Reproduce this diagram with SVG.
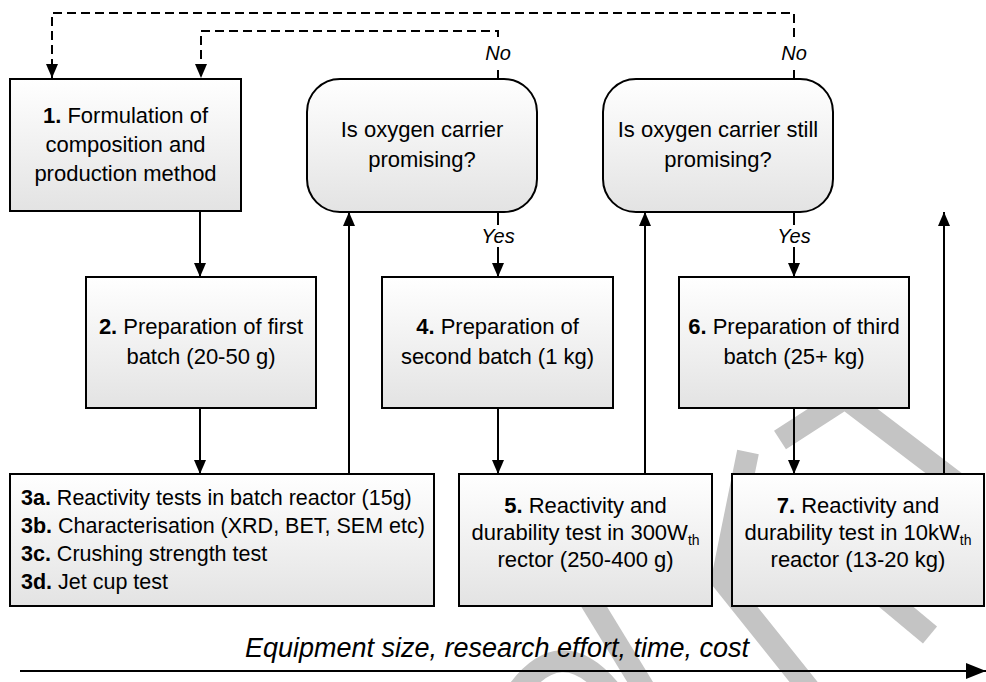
<svg xmlns="http://www.w3.org/2000/svg" width="986" height="682" viewBox="0 0 986 682">
<style>
.wm{fill:none;stroke:#c4c4c4;stroke-width:22;stroke-linecap:butt;stroke-linejoin:miter}
.box{fill:url(#g);stroke:#000;stroke-width:2}
.t{font-family:"Liberation Sans",Arial,sans-serif;font-size:22px;fill:#000;text-anchor:middle}
.t3{font-family:"Liberation Sans",Arial,sans-serif;font-size:21.5px;fill:#000}
.b{font-weight:bold}
.sub{font-size:14px}
.lab{font-family:"Liberation Sans",Arial,sans-serif;font-size:20px;font-style:italic;fill:#000;text-anchor:middle}
.c{fill:none;stroke:#000;stroke-width:2;marker-end:url(#ah)}
.d{fill:none;stroke:#000;stroke-width:2;stroke-dasharray:9 5;marker-end:url(#ah)}
.bg{fill:#fff;stroke:none}
</style>
<defs>
<linearGradient id="g" x1="0" y1="0" x2="0" y2="1">
<stop offset="0" stop-color="#ffffff"/>
<stop offset="1" stop-color="#e3e3e3"/>
</linearGradient>
<marker id="ah" viewBox="0 0 14 12" refX="14" refY="6" markerWidth="14" markerHeight="12" markerUnits="userSpaceOnUse" orient="auto">
<path d="M0,0 L14,6 L0,12 z" fill="#000"/>
</marker>
<marker id="big" viewBox="0 0 20 16" refX="20" refY="8" markerWidth="20" markerHeight="16" markerUnits="userSpaceOnUse" orient="auto">
<path d="M0,0 L20,8 L0,16 z" fill="#000"/>
</marker>
</defs>
<rect width="986" height="682" fill="#fff"/>
<g id="watermark">
<path class="wm" d="M780,440 L845,398 L975,497"/>
<path class="wm" d="M748,452 L722,580 L810,690"/>
<path class="wm" d="M840,560 L930,635"/>
<path class="wm" d="M590,600 L645,690"/>
<path class="wm" d="M515,695 Q560,630 610,690"/>
</g>
<g id="connectors">
<path class="c" d="M200,211 L200,277"/>
<path class="c" d="M200,408 L200,474"/>
<path class="c" d="M349,474 L349,212"/>
<path class="c" d="M498,212 L498,277"/>
<path class="c" d="M498,408 L498,474"/>
<path class="c" d="M645,474 L645,212"/>
<path class="c" d="M794,212 L794,277"/>
<path class="c" d="M794,408 L794,474"/>
<path class="c" d="M944,474 L944,212"/>
<path class="d" d="M498,79 L498,31 L201,31 L201,78"/>
<path class="d" d="M794,79 L794,13 L52,13 L52,78"/>
<path fill="none" stroke="#000" stroke-width="2" marker-end="url(#big)" d="M20,671 L986,671"/>
<rect class="bg" x="480" y="39" width="36" height="29"/>
<text class="lab" x="498" y="60">No</text>
<rect class="bg" x="776" y="39" width="36" height="29"/>
<text class="lab" x="794" y="60">No</text>
<rect class="bg" x="478" y="225" width="40" height="22"/>
<text class="lab" x="498" y="243">Yes</text>
<rect class="bg" x="774" y="225" width="40" height="22"/>
<text class="lab" x="794" y="243">Yes</text>
</g>
<g id="n1">
<rect class="box" x="10" y="79" width="231" height="132"/>
<text class="t" x="125.5" y="123"><tspan class="b">1.</tspan> Formulation of</text>
<text class="t" x="125.5" y="152">composition and</text>
<text class="t" x="125.5" y="181">production method</text>
</g>
<g id="n2">
<rect class="box" x="86" y="277" width="230" height="131"/>
<text class="t" x="201" y="334"><tspan class="b">2.</tspan> Preparation of first</text>
<text class="t" x="201" y="364">batch (20-50 g)</text>
</g>
<g id="n3">
<rect class="box" x="10" y="474" width="424" height="132"/>
<text class="t3" x="21" y="505"><tspan class="b">3a.</tspan> Reactivity tests in batch reactor (15g)</text>
<text class="t3" x="21" y="533"><tspan class="b">3b.</tspan> Characterisation (XRD, BET, SEM etc)</text>
<text class="t3" x="21" y="561"><tspan class="b">3c.</tspan> Crushing strength test</text>
<text class="t3" x="21" y="589"><tspan class="b">3d.</tspan> Jet cup test</text>
</g>
<g id="q1">
<rect class="box" x="307" y="79" width="230" height="133" rx="33" ry="33"/>
<text class="t" x="422" y="137">Is oxygen carrier</text>
<text class="t" x="422" y="167">promising?</text>
</g>
<g id="n4">
<rect class="box" x="382" y="277" width="231" height="131"/>
<text class="t" x="497.5" y="334"><tspan class="b">4.</tspan> Preparation of</text>
<text class="t" x="497.5" y="364">second batch (1 kg)</text>
</g>
<g id="n5">
<rect class="box" x="459" y="474" width="253" height="132"/>
<text class="t" x="585.5" y="513"><tspan class="b">5.</tspan> Reactivity and</text>
<text class="t" x="585.5" y="540">durability test in 300W<tspan class="sub" dy="5">th</tspan></text>
<text class="t" x="585.5" y="567">rector (250-400 g)</text>
</g>
<g id="q2">
<rect class="box" x="603" y="79" width="230" height="133" rx="33" ry="33"/>
<text class="t" x="718" y="137">Is oxygen carrier still</text>
<text class="t" x="718" y="167">promising?</text>
</g>
<g id="n6">
<rect class="box" x="679" y="277" width="230" height="131"/>
<text class="t" x="794" y="334"><tspan class="b">6.</tspan> Preparation of third</text>
<text class="t" x="794" y="364">batch (25+ kg)</text>
</g>
<g id="n7">
<rect class="box" x="732" y="474" width="252" height="132"/>
<text class="t" x="858" y="513"><tspan class="b">7.</tspan> Reactivity and</text>
<text class="t" x="858" y="540">durability test in 10kW<tspan class="sub" dy="5">th</tspan></text>
<text class="t" x="858" y="567">reactor (13-20 kg)</text>
</g>
<g id="axis">
<text x="497" y="657" font-family="Liberation Sans, Arial, sans-serif" font-size="27" font-style="italic" text-anchor="middle">Equipment size, research effort, time, cost</text>
</g>
</svg>
